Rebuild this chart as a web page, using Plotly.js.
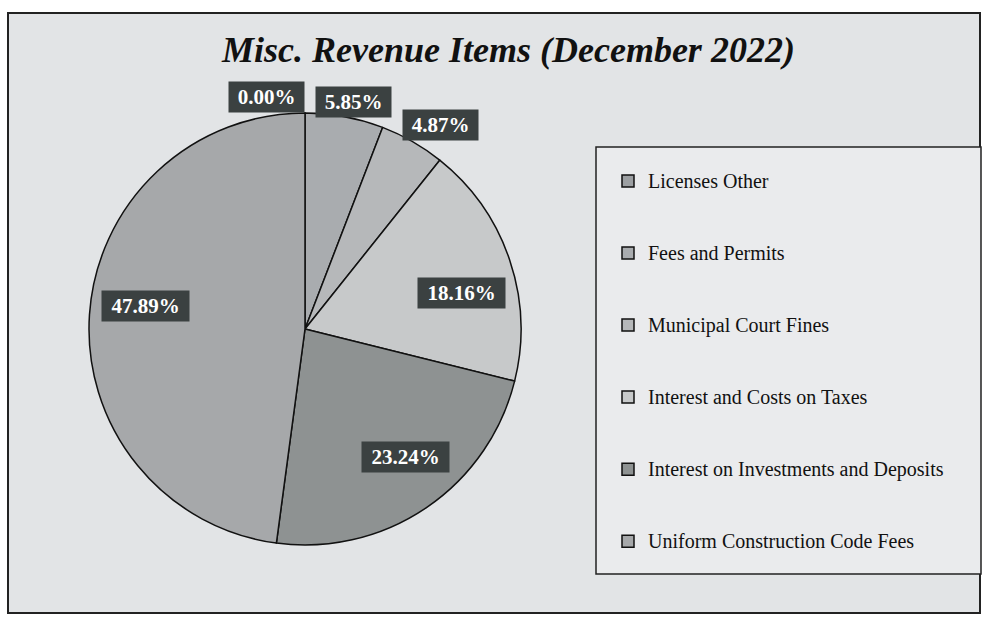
<!DOCTYPE html>
<html>
<head>
<meta charset="utf-8">
<script src="https://cdn.plot.ly/plotly-3.0.1.min.js"></script>
<style>html,body{margin:0;padding:0;background:#fff;}#chart{width:984px;height:619px;}</style>
</head>
<body>
<div id="chart"></div>
<script>
// ---- data ----
const categories = [
  "Licenses Other",
  "Fees and Permits",
  "Municipal Court Fines",
  "Interest and Costs on Taxes",
  "Interest on Investments and Deposits",
  "Uniform Construction Code Fees"
];
const shares = [0.00, 5.85, 4.87, 18.16, 23.24, 47.89];
const titleText = "Misc. Revenue Items (December 2022)";

// ---- style ----
const sliceColors = ["#9c9fa2", "#a9acaf", "#b6b8ba", "#c7c9ca", "#8e9292", "#a6a8aa"];
const labelRadius = [1.08, 1.08, 1.13, 0.74, 0.74, 0.74];
const labelShiftX = [-39, 6, 14, 5, 11, 0];
const labelShiftY = [-1, -2, -8, -15, 4, 12];
const serif = "Liberation Serif, Times New Roman, serif";

const W = 984, H = 619;
const cx = 305, cy = 329, R = 216;
const dom = {
  x: [(cx - R) / W, (cx + R) / W],
  y: [(H - cy - R) / H, (H - cy + R) / H]
};

// legend labels padded with blank lines to give the tall spacing
const legendLabels = categories.map(c =>
  "&nbsp;<br><span style=\"font-size:20px\">" + c + "</span><br>&nbsp;");

const total = shares.reduce((a, b) => a + b, 0);
let cum = 0;
const annotations = shares.map((v, i) => {
  const mid = (cum + v / 2) / total;
  cum += v;
  const th = 2 * Math.PI * mid;
  const r = R * labelRadius[i];
  const txt = v.toFixed(2) + "%";
  return {
    xref: "paper", yref: "paper",
    x: (cx + r * Math.sin(th)) / W,
    y: (H - cy + r * Math.cos(th)) / H,
    xanchor: "center", yanchor: "middle",
    xshift: labelShiftX[i], yshift: labelShiftY[i],
    text: "<b>" + txt + "</b>",
    showarrow: false,
    font: {family: serif, size: 21, color: "#ffffff"},
    bgcolor: "#3b4141",
    borderpad: 4,
    width: txt.length > 5 ? 79 : 67,
    height: 22
  };
});

annotations.push({
  xref: "paper", yref: "paper", x: 508 / W, y: 1 - 50 / H,
  xanchor: "center", yanchor: "middle",
  text: "<b><i>" + titleText + "</i></b>", showarrow: false,
  font: {family: serif, size: 36, color: "#111111"}
});

const trace = {
  type: "pie",
  labels: legendLabels,
  values: shares,
  sort: false,
  direction: "clockwise",
  rotation: 0,
  textinfo: "none",
  hoverinfo: "skip",
  domain: dom,
  marker: {colors: sliceColors, line: {color: "#111111", width: 1.5}}
};

const layout = {
  width: W, height: H,
  margin: {l: 0, r: 0, t: 0, b: 0},
  paper_bgcolor: "#ffffff",
  showlegend: true,
  legend: {
    x: 608 / W, y: 1 - 140 / H, xanchor: "left", yanchor: "top",
    bgcolor: "rgba(0,0,0,0)", borderwidth: 0,
    font: {family: serif, size: 17.7, color: "#111111"},
    itemwidth: 30
  },
  shapes: [
    {type: "rect", xref: "paper", yref: "paper", x0: 8 / W, x1: 980 / W, y0: 1 - 613 / H, y1: 1 - 13 / H,
     fillcolor: "#e2e4e6", line: {color: "#222222", width: 2}, layer: "below"},
    {type: "rect", xref: "paper", yref: "paper", x0: 596 / W, x1: 981 / W, y0: 1 - 574 / H, y1: 1 - 147 / H,
     fillcolor: "#eaebed", line: {color: "#222222", width: 1.5}, layer: "below"}
  ],
  annotations: annotations
};

Plotly.newPlot("chart", [trace], layout, {displayModeBar: false, staticPlot: true});
</script>
</body>
</html>
